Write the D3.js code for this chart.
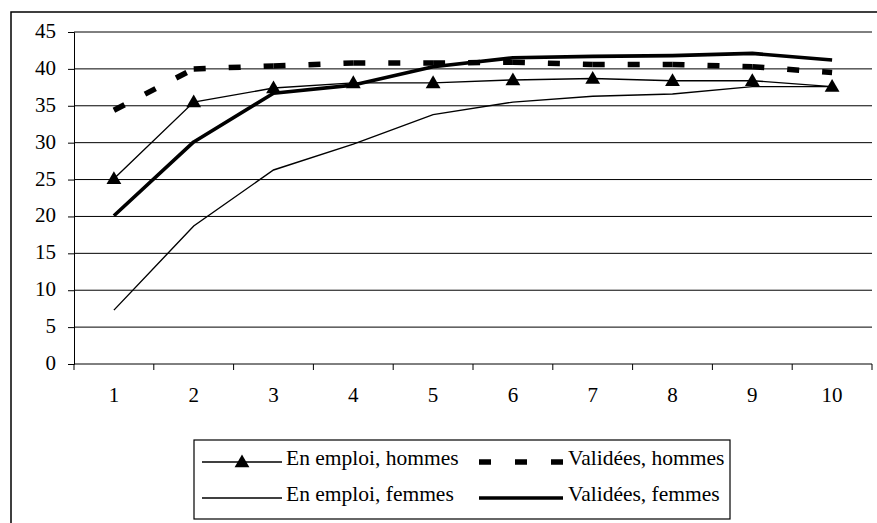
<!DOCTYPE html>
<html>
<head>
<meta charset="utf-8">
<script src="https://cdn.jsdelivr.net/npm/d3@7"></script>
<style>
  html, body { margin: 0; padding: 0; background: #fff; }
  svg text { font-family: "Liberation Serif", "Times New Roman", serif; }
</style>
</head>
<body>
<svg id="chart" width="877" height="523"></svg>
<script>
// Categories on the horizontal axis
const categories = [1, 2, 3, 4, 5, 6, 7, 8, 9, 10];
// Series values
const emploiHommes = [25.1, 35.5, 37.4, 38.1, 38.1, 38.5, 38.7, 38.4, 38.4, 37.6];
const valideesHommes = [34.4, 40.0, 40.4, 40.8, 40.8, 40.9, 40.6, 40.6, 40.3, 39.5];
const emploiFemmes = [7.3, 18.7, 26.3, 29.8, 33.8, 35.5, 36.3, 36.6, 37.6, 37.6];
const valideesFemmes = [20.1, 30.1, 36.7, 37.8, 40.3, 41.5, 41.7, 41.8, 42.1, 41.2];
// Value-axis ticks
const yTicks = [0, 5, 10, 15, 20, 25, 30, 35, 40, 45];
// Legend labels
const legendLabels = ["En emploi, hommes", "Validées, hommes", "En emploi, femmes", "Validées, femmes"];

const FONT = "'Liberation Serif', 'Times New Roman', serif";
const svg = d3.select("#chart");

// Outer frame of the chart area (runs past the right and bottom edges)
svg.append("rect")
  .attr("x", 11).attr("y", 12)
  .attr("width", 900).attr("height", 540)
  .attr("fill", "none").attr("stroke", "#000").attr("stroke-width", 1.5);

const plot = { left: 74, right: 872, top: 32, bottom: 364 };

const x = d3.scaleBand().domain(categories).range([plot.left, plot.right]);
const xc = d => x(d) + x.bandwidth() / 2;
const y = d3.scaleLinear().domain([0, 45]).range([plot.bottom, plot.top]);

// Horizontal gridlines
svg.append("g")
  .selectAll("line")
  .data(yTicks.filter(t => t > 0))
  .join("line")
  .attr("x1", plot.left).attr("x2", plot.right)
  .attr("y1", d => y(d)).attr("y2", d => y(d))
  .attr("stroke", "#000").attr("stroke-width", 1);

// Value axis
const yAxis = svg.append("g")
  .attr("transform", `translate(${plot.left},0)`)
  .call(d3.axisLeft(y).tickValues(yTicks).tickSize(6).tickPadding(12));
yAxis.attr("font-family", FONT).attr("font-size", 21);
yAxis.select(".domain").attr("stroke", "#000").attr("stroke-width", 1);
yAxis.selectAll(".tick line").attr("stroke", "#000");
yAxis.selectAll(".tick text")
  .style("font-family", FONT)
  .attr("font-size", 21).attr("fill", "#000")
  .attr("dy", "0.26em");

// Category axis: ticks fall between categories
const xAxisG = svg.append("g").attr("transform", `translate(0,${plot.bottom})`);
xAxisG.append("line")
  .attr("x1", plot.left).attr("x2", plot.right)
  .attr("stroke", "#000").attr("stroke-width", 1);
const bounds = categories.map(c => x(c)).concat([plot.right]);
xAxisG.selectAll("line.tk")
  .data(bounds)
  .join("line").attr("class", "tk")
  .attr("x1", d => d).attr("x2", d => d)
  .attr("y1", 0).attr("y2", 6)
  .attr("stroke", "#000").attr("stroke-width", 1);
xAxisG.selectAll("text")
  .data(categories)
  .join("text")
  .attr("x", d => xc(d)).attr("y", 38)
  .attr("text-anchor", "middle")
  .style("font-family", FONT)
  .attr("font-size", 21).attr("fill", "#000")
  .text(d => d);

const line = d3.line().x((d, i) => xc(categories[i])).y(d => y(d));

// En emploi, femmes: thin solid line
svg.append("path").datum(emploiFemmes)
  .attr("d", line).attr("fill", "none")
  .attr("stroke", "#000").attr("stroke-width", 1.4);

// Validées, hommes: heavy dashes, restarted on every segment
const segs = d3.pairs(valideesHommes.map((v, i) => [xc(categories[i]), y(v)]));
svg.append("g").selectAll("path")
  .data(segs)
  .join("path")
  .attr("d", d => d3.line()(d))
  .attr("fill", "none").attr("stroke", "#000")
  .attr("stroke-width", 5.5).attr("stroke-dasharray", "12 23");

// Validées, femmes: heavy solid line
svg.append("path").datum(valideesFemmes)
  .attr("d", line).attr("fill", "none")
  .attr("stroke", "#000").attr("stroke-width", 3.6)
  .attr("stroke-linejoin", "round");

// En emploi, hommes: thin line with triangle markers
svg.append("path").datum(emploiHommes)
  .attr("d", line).attr("fill", "none")
  .attr("stroke", "#000").attr("stroke-width", 1.4);

const tri = d3.symbol().type(d3.symbolTriangle).size(95);
svg.append("g").selectAll("path")
  .data(emploiHommes)
  .join("path")
  .attr("d", tri)
  .attr("transform", (d, i) => `translate(${xc(categories[i])},${y(d) + 1})`)
  .attr("fill", "#000");

// Legend
const lg = svg.append("g");
lg.append("rect")
  .attr("x", 194).attr("y", 440).attr("width", 536).attr("height", 79)
  .attr("fill", "#fff").attr("stroke", "#000").attr("stroke-width", 1.2);

const rowY = [462, 498];
const colSym = [[202, 282], [479, 563]];
const colText = [286, 568];

// row 1, col 1: line with triangle
lg.append("line").attr("x1", colSym[0][0]).attr("x2", colSym[0][1])
  .attr("y1", rowY[0]).attr("y2", rowY[0]).attr("stroke", "#000").attr("stroke-width", 1.4);
lg.append("path").attr("d", tri)
  .attr("transform", `translate(${(colSym[0][0] + colSym[0][1]) / 2},${rowY[0] + 1})`);
// row 1, col 2: dashes
lg.append("line").attr("x1", colSym[1][0]).attr("x2", colSym[1][1] + 1)
  .attr("y1", rowY[0]).attr("y2", rowY[0]).attr("stroke", "#000")
  .attr("stroke-width", 5.5).attr("stroke-dasharray", "12 24");
// row 2, col 1: thin line
lg.append("line").attr("x1", colSym[0][0]).attr("x2", colSym[0][1])
  .attr("y1", rowY[1]).attr("y2", rowY[1]).attr("stroke", "#000").attr("stroke-width", 1.4);
// row 2, col 2: heavy line
lg.append("line").attr("x1", colSym[1][0]).attr("x2", colSym[1][1])
  .attr("y1", rowY[1]).attr("y2", rowY[1]).attr("stroke", "#000").attr("stroke-width", 3.6);

const legendPos = [[colText[0], rowY[0]], [colText[1], rowY[0]], [colText[0], rowY[1]], [colText[1], rowY[1]]];
lg.selectAll("text")
  .data(legendLabels)
  .join("text")
  .attr("x", (d, i) => legendPos[i][0])
  .attr("y", (d, i) => legendPos[i][1] + 3)
  .style("font-family", FONT)
  .attr("font-size", 21.5).attr("fill", "#000")
  .text(d => d);
</script>
</body>
</html>
